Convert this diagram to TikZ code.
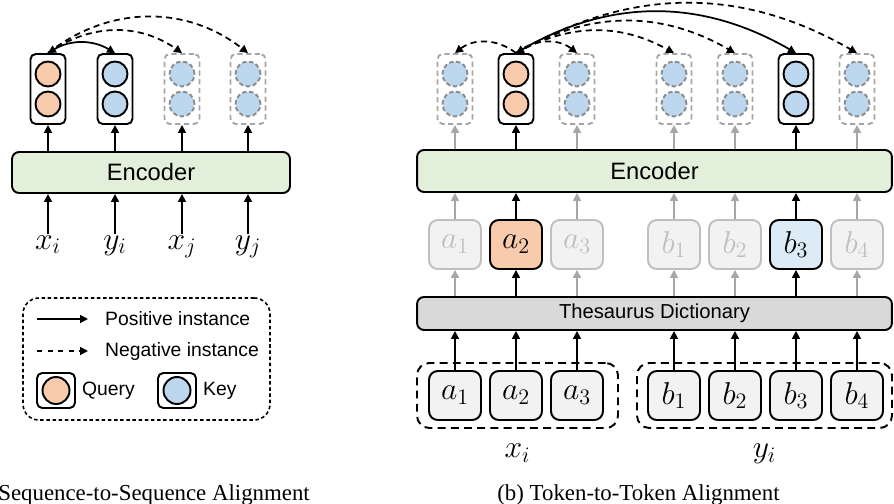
\documentclass[tikz,border=0pt]{standalone}
\usepackage{fix-cm}
\usepackage[no-math]{fontspec}
\setmainfont{Liberation Sans}
\newfontfamily\capfont{Liberation Serif}
\usetikzlibrary{arrows.meta,calc,positioning}

\definecolor{qorange}{HTML}{F8CBAD}
\definecolor{kblue}{HTML}{BDD7EE}
\definecolor{btok}{HTML}{DDEBF7}
\definecolor{encgreen}{HTML}{E2EFDA}
\definecolor{dictgray}{HTML}{D9D9D9}
\definecolor{tokgray}{HTML}{F2F2F2}
\definecolor{offgray}{HTML}{BFBFBF}
\definecolor{grayline}{HTML}{A6A6A6}
\definecolor{dotgray}{HTML}{8C8C8C}

\tikzset{
  >={Triangle[length=4.5pt,width=4.5pt]},
  vec/.style={draw,line width=1.1pt,rounded corners=3pt,minimum width=0.7cm,minimum height=1.4cm,inner sep=0pt},
  negvec/.style={vec,draw=grayline,dash pattern=on 3pt off 2pt},
  dot/.style={circle,draw,line width=1.1pt,minimum size=0.5cm,inner sep=0pt},
  qdot/.style={dot,fill=qorange},
  kdot/.style={dot,fill=kblue},
  negdot/.style={dot,draw=dotgray,fill=kblue,dash pattern=on 2.5pt off 1.5pt},
  encbox/.style={draw,line width=1.1pt,rounded corners=4pt,fill=encgreen,font=\fontsize{13.5}{16}\selectfont},
  dictbox/.style={draw,line width=1.1pt,rounded corners=4pt,fill=dictgray,font=\fontsize{11.5}{14}\selectfont},
  tok/.style={draw,line width=1.1pt,rounded corners=5pt,fill=tokgray,minimum width=1.04cm,minimum height=0.98cm,inner sep=0pt,font=\fontsize{18}{20}\selectfont},
  offtok/.style={tok,draw=offgray,text=offgray},
  qtok/.style={tok,fill=qorange},
  ktok/.style={tok,fill=btok},
  grp/.style={draw,line width=1.1pt,rounded corners=7pt,dash pattern=on 4.5pt off 3pt},
  legbox/.style={draw,line width=0.9pt,rounded corners=9pt,dash pattern=on 2pt off 1.5pt},
  lab/.style={font=\fontsize{18}{20}\selectfont},
  legtext/.style={font=\fontsize{11}{13}\selectfont},
  capt/.style={font=\capfont\fontsize{13}{15}\selectfont,inner sep=0pt},
  posarrow/.style={->,line width=1pt},
  negarrow/.style={->,line width=1pt,dash pattern=on 3.5pt off 2.5pt},
  offarrow/.style={->,line width=1pt,grayline}
}

\begin{document}
\begin{tikzpicture}[x=0.02cm,y=-0.02cm]
\useasboundingbox (0,0) rectangle (894,504);

% (a) sequence level
\node[vec] (v1) at (48,89) {};
\node[vec] (v2) at (115,89) {};
\node[negvec] (v3) at (182,89) {};
\node[negvec] (v4) at (248,89) {};
\foreach \i/\d in {1/qdot,2/kdot,3/negdot,4/negdot}{
  \node[\d] (v\i-t) at ($(v\i)+(0,-15)$) {};
  \node[\d] (v\i-b) at ($(v\i)+(0,15)$) {};
}
\node[encbox,minimum width=5.56cm,minimum height=0.82cm] (encl) at (151,172.5) {Encoder};
\foreach \i/\x/\t in {1/48/x_i,2/115/y_i,3/182/x_j,4/248/y_j}{
  \node[lab,anchor=base] (in\i) at (\x,249) {$\t$};
  \draw[posarrow] ($(in\i.north)+(0,5)$) -- (in\i.north |- encl.south);
  \draw[posarrow] (encl.north -| v\i) -- (v\i.south);
}
\draw[posarrow,<->] (v1.north) to[bend left=31] (v2.north);
\draw[negarrow] (v1.north) to[bend left=35] (v3.north);
\draw[negarrow] (v1.north) to[bend left=38] (v4.north);

% legend
\node[legbox,minimum width=4.94cm,minimum height=2.44cm] (leg) at (146.5,359) {};
\coordinate (p0) at (37,319);
\coordinate (p1) at (88,319);
\draw[posarrow] (p0) -- (p1);
\node[legtext,anchor=west] (ptext) at (99,319) {Positive instance};
\coordinate (n0) at (37,351);
\coordinate (n1) at (88,351);
\draw[negarrow,dash pattern=on 3pt off 3pt] (n0) -- (n1);
\node[legtext,anchor=west] (ntext) at (99,351) {Negative instance};
\node[vec,minimum width=0.76cm,minimum height=0.7cm] (qicon) at (56,390.5) {};
\node[qdot,minimum size=0.54cm] (qdot) at (qicon) {};
\node[legtext,anchor=west] (qtext) at (qicon.east) {Query};
\node[vec,minimum width=0.76cm,minimum height=0.7cm] (kicon) at (177,390.5) {};
\node[kdot,minimum size=0.54cm] (kdot) at (kicon) {};
\node[legtext,anchor=west] (ktext) at (kicon.east) {Key};

\node[capt,anchor=base west] (capa) at (-2,500) {Sequence-to-Sequence Alignment};

% (b) token level
\node[encbox,minimum width=9.5cm,minimum height=0.84cm] (encr) at (654.5,171) {Encoder};
\node[dictbox,minimum width=9.5cm,minimum height=0.66cm] (dict) at (654.5,313.5) {Thesaurus Dictionary};
\node[grp,minimum width=4.02cm,minimum height=1.3cm] (gx) at (517.5,395.5) {};
\node[grp,minimum width=5.1cm,minimum height=1.3cm] (gy) at (764.5,395.5) {};
\node[lab,anchor=base] (lx) at ($(gx.south)+(0,29)$) {$x_i$};
\node[lab,anchor=base] (ly) at ($(gy.south)+(0,29)$) {$y_i$};

\foreach \i/\x/\t/\vs/\ds/\ms/\as in {1/455/a_1/negvec/negdot/offtok/offarrow,
    2/516/a_2/vec/qdot/qtok/posarrow, 3/577/a_3/negvec/negdot/offtok/offarrow,
    4/674/b_1/negvec/negdot/offtok/offarrow, 5/735/b_2/negvec/negdot/offtok/offarrow,
    6/796/b_3/vec/kdot/ktok/posarrow, 7/857/b_4/negvec/negdot/offtok/offarrow}{
  \node[\vs] (r\i) at (\x,89) {};
  \node[\ds] (r\i-t) at ($(r\i)+(0,-15)$) {};
  \node[\ds] (r\i-b) at ($(r\i)+(0,15)$) {};
  \node[\ms] (m\i) at (\x,244.5) {$\t$};
  \node[tok] (t\i) at (\x,395.5) {$\t$};
  \draw[posarrow] (t\i.north) -- (t\i.north |- dict.south);
  \draw[\as] (dict.north -| m\i) -- (m\i.south);
  \draw[\as] (m\i.north) -- (m\i.north |- encr.south);
  \draw[\as] (encr.north -| r\i) -- (r\i.south);
}
\draw[negarrow] (r2.north) to[bend right=38] (r1.north);
\draw[negarrow] (r2.north) to[bend left=38] (r3.north);
\draw[negarrow] (r2.north) to[bend left=29] (r4.north);
\draw[negarrow] (r2.north) to[bend left=30] (r5.north);
\draw[posarrow,<->] (r2.north) to[bend left=30] (r6.north);
\draw[negarrow] (r2.north) to[bend left=30] (r7.north);

\node[capt,anchor=base] (capb) at (638.5,500) {(b) Token-to-Token Alignment};
\end{tikzpicture}
\end{document}
